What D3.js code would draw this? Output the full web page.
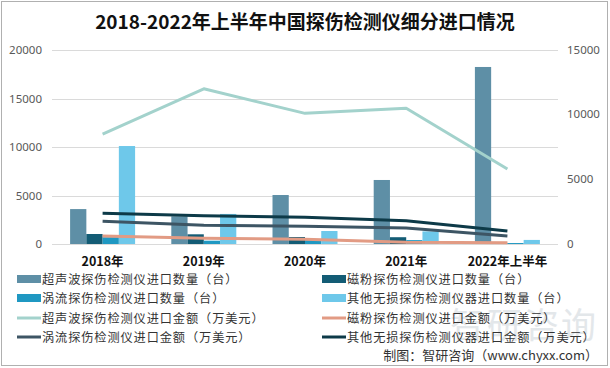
<!DOCTYPE html>
<html><head><meta charset="utf-8">
<script src="https://cdn.jsdelivr.net/npm/d3@7"></script>
<style>
html,body{margin:0;padding:0;background:#fff;}
svg{display:block;font-family:"Noto Sans CJK SC","Noto Sans",sans-serif;}
</style></head>
<body><svg id="c" width="610" height="368"></svg>
<script>
const categories = ["2018年","2019年","2020年","2021年","2022年上半年"];
// bar series (left axis, 台)
const barNames = ["超声波探伤检测仪进口数量（台）","磁粉探伤检测仪进口数量（台）","涡流探伤检测仪进口数量（台）","其他无损探伤检测仪器进口数量（台）"];
const ultrasonicQty = [3600, 2850, 5050, 6600, 18250];
const magneticQty   = [1030, 1000, 720, 700, 120];
const eddyQty       = [700, 340, 400, 400, 100];
const otherQty      = [10100, 3100, 1340, 1300, 420];
// line series (right axis, 万美元)
const lineNames = ["超声波探伤检测仪进口金额（万美元）","磁粉探伤检测仪进口金额（万美元）","涡流探伤检测仪进口金额（万美元）","其他无损探伤检测仪器进口金额（万美元）"];
const ultrasonicAmt = [8500, 12000, 10100, 10500, 5800];
const magneticAmt   = [620, 440, 360, 130, 100];
const eddyAmt       = [1750, 1450, 1380, 1230, 620];
const otherAmt      = [2370, 2190, 2060, 1800, 1000];
const leftTicks = [0, 5000, 10000, 15000, 20000];
const rightTicks = ["0", "5000", "10000", "15000"];

const barColors = ["#5e8fa6","#135c75","#1f98c2","#6ec8ea"];
const lineColors = ["#a3d2cc","#e29b84","#3d5564","#0d3a48"];

const svg = d3.select("#c");
svg.append("rect").attr("x",1.5).attr("y",1.5).attr("width",606).attr("height",364)
  .attr("fill","#fff").attr("stroke","#b0b0b0").attr("stroke-width",1);

const plot = {l:52, r:558, t:50, b:244};
const x0 = d3.scaleBand().domain(categories).range([plot.l, plot.r]).paddingInner(0).paddingOuter(0);
const x1 = d3.scaleBand().domain(d3.range(4)).range([0, 65]);
const yL = d3.scaleLinear().domain([0,20000]).range([plot.b, plot.t]);
const yR = d3.scaleLinear().domain([0,15000]).range([plot.b, plot.t]);

// title
svg.append("text").attr("x",305).attr("y",29).attr("text-anchor","middle")
  .attr("font-size",19).attr("font-weight","bold").attr("fill","#111")
  .text("2018-2022年上半年中国探伤检测仪细分进口情况");

// gridlines
svg.append("g").selectAll("line").data(leftTicks).join("line")
  .attr("x1",plot.l).attr("x2",plot.r).attr("y1",d=>Math.round(yL(d))+0.5).attr("y2",d=>Math.round(yL(d))+0.5)
  .attr("stroke","#dadada").attr("stroke-width",1);

// watermark (behind marks)
svg.append("text").attr("x",524).attr("y",338).attr("text-anchor","middle")
  .attr("font-size",35).attr("fill","#c9d0d6").attr("opacity",0.5).attr("letter-spacing",2).text("智研咨询");

// left axis
const la = svg.append("g").attr("transform",`translate(${plot.l},0)`)
  .call(d3.axisLeft(yL).tickValues(leftTicks).tickSize(0).tickPadding(10).tickFormat(d3.format("d")));
la.select(".domain").remove();
la.selectAll("text").attr("font-size",11.5).attr("fill","#595959").attr("font-family","'Noto Sans',sans-serif");

// right axis labels
svg.append("g").selectAll("text").data(rightTicks).join("text")
  .attr("x",plot.r+9).attr("y",d=>yR(+d)).attr("dy","0.32em")
  .attr("font-size",11.5).attr("fill","#595959").attr("font-family","'Noto Sans',sans-serif")
  .text(d=>d);

// bars
const barSeries = [ultrasonicQty, magneticQty, eddyQty, otherQty];
const bg = svg.append("g");
categories.forEach((c,i)=>{
  const gx = x0(c) + (x0.bandwidth()-65)/2;
  barSeries.forEach((s,j)=>{
    bg.append("rect").attr("x",gx + x1(j)).attr("width",x1.bandwidth())
      .attr("y",yL(s[i])).attr("height",yL(0)-yL(s[i])).attr("fill",barColors[j]);
  });
});

// lines
const lineSeries = [ultrasonicAmt, magneticAmt, eddyAmt, otherAmt];
const line = d3.line().x((d,i)=>x0(categories[i])+x0.bandwidth()/2).y(d=>yR(d));
lineSeries.forEach((s,j)=>{
  svg.append("path").datum(s).attr("d",line).attr("fill","none")
    .attr("stroke",lineColors[j]).attr("stroke-width",3).attr("stroke-linejoin","round");
});

// category labels
svg.append("g").selectAll("text").data(categories).join("text")
  .attr("x",d=>x0(d)+x0.bandwidth()/2).attr("y",266).attr("text-anchor","middle")
  .attr("font-size",12.5).attr("font-weight","bold").attr("fill","#111").text(d=>d);

// legend
const legendItems = [
  {n:barNames[0], c:barColors[0], t:"bar"},{n:barNames[1], c:barColors[1], t:"bar"},
  {n:barNames[2], c:barColors[2], t:"bar"},{n:barNames[3], c:barColors[3], t:"bar"},
  {n:lineNames[0], c:lineColors[0], t:"line"},{n:lineNames[1], c:lineColors[1], t:"line"},
  {n:lineNames[2], c:lineColors[2], t:"line"},{n:lineNames[3], c:lineColors[3], t:"line"}
];
const rowsY = [279, 298, 318, 337];
const colX = [17, 322];
const lg = svg.append("g");
legendItems.forEach((it,k)=>{
  const cx = colX[k%2], cy = rowsY[Math.floor(k/2)];
  if(it.t==="bar") lg.append("rect").attr("x",cx).attr("y",cy-4).attr("width",24).attr("height",8).attr("fill",it.c);
  else lg.append("line").attr("x1",cx).attr("x2",cx+24).attr("y1",cy).attr("y2",cy).attr("stroke",it.c).attr("stroke-width",3);
  lg.append("text").attr("x",cx+25).attr("y",cy+4.5).attr("font-size",12.2).attr("letter-spacing",0.9)
    .attr("fill","#333").text(it.n);
});

// footer
svg.append("text").attr("x",598).attr("y",360).attr("text-anchor","end")
  .attr("font-size",13).attr("fill","#333").text("制图：智研咨询（www.chyxx.com）");
</script></body></html>
